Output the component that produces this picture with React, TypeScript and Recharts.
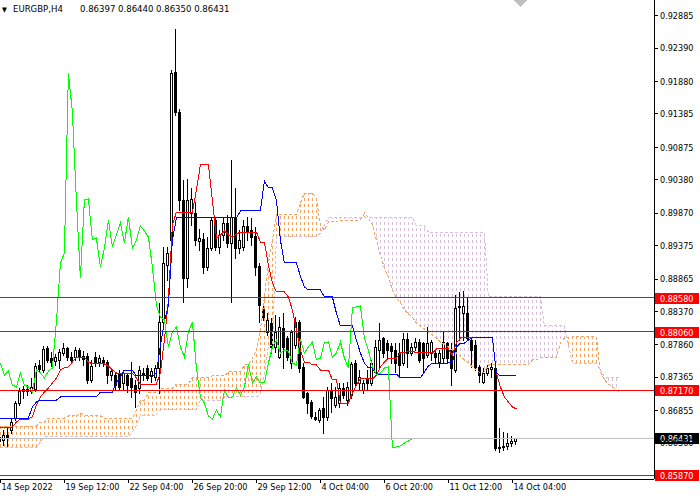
import React from "react";
import { ComposedChart, XAxis, YAxis, Bar, Line, Area, ReferenceLine } from "recharts";

const FONT = "'DejaVu Sans Condensed', 'Liberation Sans', sans-serif";

// H4 candles, one per bar index
const opens = [
  0.86454, 0.86408, 0.86484, 0.8656, 0.86743, 0.86972, 0.87156, 0.87186, 0.87156, 0.87186,
  0.87553, 0.87476, 0.87812, 0.87659, 0.87614, 0.87629, 0.87736, 0.87812, 0.87674, 0.87674,
  0.87782, 0.8769, 0.8769, 0.87324, 0.87674, 0.87598, 0.87629, 0.87598, 0.874, 0.874,
  0.8743, 0.87278, 0.874, 0.87354, 0.87247, 0.87201, 0.87415, 0.87507, 0.87385, 0.87369,
  0.87507, 0.88209, 0.89079, 0.89461, 0.92026, 0.91415, 0.90072, 0.88881, 0.89873, 0.89873,
  0.89446, 0.89476, 0.89049, 0.89339, 0.89766, 0.89354, 0.89537, 0.8972, 0.89415, 0.89812,
  0.89339, 0.89354, 0.89675, 0.89614, 0.89522, 0.89064, 0.88407, 0.88056, 0.88194, 0.87827,
  0.87674, 0.88117, 0.87965, 0.87583, 0.87858, 0.88209, 0.87522, 0.87125, 0.86988, 0.86759,
  0.86713, 0.86896, 0.86759, 0.87171, 0.86942, 0.86972, 0.87201, 0.87018, 0.87095, 0.87583,
  0.87278, 0.87171, 0.87354, 0.87278, 0.87446, 0.87782, 0.87965, 0.87888, 0.87843, 0.87782,
  0.87736, 0.87583, 0.87949, 0.87736, 0.87827, 0.87904, 0.87888, 0.87705, 0.87736, 0.87736,
  0.87598, 0.87659, 0.87888, 0.87782, 0.87476, 0.88453, 0.88346, 0.88346, 0.87934, 0.87858,
  0.87522, 0.87293, 0.8743, 0.87492, 0.87507, 0.86286, 0.86301, 0.86316, 0.86362, 0.86397,
];
const highs = [
  0.86514, 0.8656, 0.86591, 0.86728, 0.87003, 0.87201, 0.87232, 0.87247, 0.87354, 0.87583,
  0.87629, 0.87843, 0.87843, 0.87751, 0.8772, 0.87797, 0.87888, 0.87827, 0.87751, 0.87827,
  0.87812, 0.87766, 0.87736, 0.87629, 0.87751, 0.87705, 0.87674, 0.87629, 0.87507, 0.87446,
  0.87476, 0.87476, 0.8743, 0.87598, 0.87324, 0.87537, 0.87507, 0.87553, 0.87507, 0.87553,
  0.88499, 0.89354, 0.89354, 0.92056, 0.92682, 0.91461, 0.90377, 0.90392, 0.90255, 0.90041,
  0.89629, 0.89568, 0.89507, 0.89812, 0.89812, 0.89614, 0.89812, 0.89843, 0.90682, 0.90255,
  0.89614, 0.89766, 0.89812, 0.89797, 0.89659, 0.8911, 0.88453, 0.88346, 0.8827, 0.88316,
  0.88285, 0.88346, 0.87995, 0.88087, 0.88285, 0.8824, 0.87583, 0.8714, 0.87018, 0.86835,
  0.86896, 0.87064, 0.87217, 0.87278, 0.87217, 0.87278, 0.87278, 0.87293, 0.87598, 0.87629,
  0.87476, 0.87324, 0.87476, 0.87629, 0.87934, 0.88194, 0.8798, 0.87934, 0.87888, 0.87888,
  0.87888, 0.88041, 0.88041, 0.87888, 0.87965, 0.87949, 0.87904, 0.88133, 0.87934, 0.87782,
  0.87782, 0.88056, 0.87904, 0.87888, 0.88621, 0.88667, 0.88682, 0.88591, 0.87965, 0.87934,
  0.87553, 0.87507, 0.87553, 0.87583, 0.87553, 0.86591, 0.8653, 0.86514, 0.86469, 0.8644,
];
const lows = [
  0.86347, 0.86331, 0.86316, 0.86514, 0.86713, 0.86942, 0.87049, 0.87095, 0.87125, 0.87156,
  0.87446, 0.87446, 0.87598, 0.87537, 0.87553, 0.87507, 0.87705, 0.87629, 0.87583, 0.87629,
  0.87629, 0.87553, 0.87278, 0.87293, 0.87537, 0.87537, 0.87537, 0.87278, 0.87324, 0.87171,
  0.87171, 0.87171, 0.8714, 0.87064, 0.86911, 0.87125, 0.87324, 0.87324, 0.87293, 0.87324,
  0.87125, 0.88163, 0.8885, 0.89385, 0.91369, 0.89919, 0.88514, 0.88743, 0.8969, 0.89385,
  0.89308, 0.88957, 0.89003, 0.89308, 0.89308, 0.89263, 0.89461, 0.89354, 0.88514, 0.89186,
  0.89263, 0.89308, 0.89461, 0.89385, 0.88927, 0.88209, 0.8824, 0.88011, 0.87736, 0.87751,
  0.87659, 0.87507, 0.87629, 0.87507, 0.87812, 0.87446, 0.87049, 0.8682, 0.86743, 0.86713,
  0.86682, 0.86514, 0.86713, 0.86835, 0.86911, 0.86911, 0.87049, 0.86942, 0.87049, 0.87232,
  0.87171, 0.87125, 0.87171, 0.87247, 0.8743, 0.87522, 0.87674, 0.87674, 0.87583, 0.87446,
  0.87369, 0.87553, 0.87522, 0.87705, 0.87782, 0.87598, 0.8743, 0.87674, 0.87629, 0.87583,
  0.87522, 0.87598, 0.87598, 0.87247, 0.87446, 0.87934, 0.87934, 0.87934, 0.87522, 0.87476,
  0.87293, 0.87278, 0.874, 0.87369, 0.86255, 0.86225, 0.86255, 0.8627, 0.86316, 0.8635,
];
const closes = [
  0.86392, 0.86484, 0.86439, 0.86682, 0.86972, 0.87156, 0.87186, 0.87156, 0.87217, 0.87537,
  0.87492, 0.87797, 0.87629, 0.87598, 0.87674, 0.87751, 0.87812, 0.87674, 0.87629, 0.87782,
  0.87674, 0.87644, 0.87324, 0.87537, 0.87598, 0.87659, 0.87583, 0.874, 0.87461, 0.87247,
  0.87217, 0.8743, 0.87247, 0.87217, 0.8714, 0.87476, 0.8743, 0.87354, 0.87461, 0.87507,
  0.88209, 0.8911, 0.89263, 0.9201, 0.91415, 0.90072, 0.88881, 0.90072, 0.90087, 0.89461,
  0.89491, 0.89049, 0.89339, 0.89766, 0.89354, 0.89537, 0.8972, 0.89415, 0.89812, 0.89339,
  0.89461, 0.89675, 0.89598, 0.89507, 0.89049, 0.88469, 0.88285, 0.8824, 0.87827, 0.88056,
  0.88133, 0.87827, 0.87674, 0.88056, 0.88209, 0.87507, 0.87064, 0.86972, 0.86774, 0.86728,
  0.86866, 0.86759, 0.87171, 0.87049, 0.87064, 0.87201, 0.87095, 0.87217, 0.87568, 0.87278,
  0.87369, 0.87278, 0.87278, 0.87583, 0.87827, 0.87934, 0.87736, 0.87782, 0.87766, 0.87583,
  0.87553, 0.87949, 0.87736, 0.87827, 0.87904, 0.87629, 0.87659, 0.87888, 0.87904, 0.87674,
  0.87736, 0.87904, 0.87659, 0.87507, 0.88423, 0.88438, 0.88453, 0.87965, 0.87782, 0.87522,
  0.874, 0.8743, 0.87507, 0.87522, 0.86286, 0.86301, 0.86316, 0.86362, 0.86392, 0.86431,
];

// Ichimoku lines
const tenkan = [
  0.86591, 0.86591, 0.86591, 0.86606, 0.86682, 0.86728, 0.86728, 0.86728, 0.86759, 0.86942,
  0.87064, 0.8714, 0.87201, 0.87278, 0.87354, 0.87476, 0.87507, 0.87522, 0.87598, 0.87674,
  0.87674, 0.87674, 0.87598, 0.87568, 0.87568, 0.87568, 0.87568, 0.87537, 0.87476, 0.8743,
  0.8743, 0.8743, 0.8743, 0.8743, 0.87354, 0.87262, 0.87262, 0.87262, 0.87262, 0.87262,
  0.8743, 0.87934, 0.88545, 0.8969, 0.89888, 0.89888, 0.89888, 0.89888, 0.89888, 0.90224,
  0.90606, 0.90606, 0.90606, 0.90072, 0.89491, 0.89537, 0.89598, 0.89537, 0.89507, 0.89552,
  0.89583, 0.89583, 0.89583, 0.89583, 0.89583, 0.8943, 0.8943, 0.89079, 0.88804, 0.88667,
  0.88667, 0.88667, 0.88591, 0.88392, 0.88087, 0.87782, 0.87598, 0.87598, 0.87553, 0.87553,
  0.87476, 0.87476, 0.87476, 0.87324, 0.87324, 0.86972, 0.86972, 0.86972, 0.87125, 0.87247,
  0.87339, 0.87339, 0.87339, 0.87339, 0.874, 0.87522, 0.87598, 0.87659, 0.87659, 0.87659,
  0.87736, 0.87736, 0.87766, 0.87766, 0.87736, 0.87736, 0.87736, 0.87736, 0.87736, 0.87797,
  0.87797, 0.87797, 0.87797, 0.87705, 0.87888, 0.87965, 0.87965, 0.87965, 0.87965, 0.87965,
  0.87965, 0.87965, 0.87965, 0.87965, 0.8743, 0.87217, 0.87064, 0.86988, 0.86911, 0.86881,
];
const kijun = [
  0.86743, 0.86743, 0.86743, 0.86743, 0.86743, 0.86743, 0.86743, 0.86743, 0.86911, 0.86988,
  0.87018, 0.87018, 0.87018, 0.87018, 0.87018, 0.87064, 0.87064, 0.87064, 0.87064, 0.87064,
  0.87064, 0.87064, 0.87064, 0.87064, 0.87064, 0.8714, 0.8714, 0.8714, 0.8714, 0.87278,
  0.87369, 0.87476, 0.87476, 0.87476, 0.87385, 0.87385, 0.87385, 0.87385, 0.87385, 0.8743,
  0.87858, 0.88209, 0.88469, 0.89461, 0.89797, 0.89797, 0.89797, 0.89797, 0.89797, 0.89797,
  0.89797, 0.89797, 0.89797, 0.89797, 0.89797, 0.89797, 0.89797, 0.89797, 0.89797, 0.89797,
  0.89904, 0.89904, 0.89904, 0.89904, 0.89904, 0.89904, 0.90362, 0.90255, 0.90255, 0.90072,
  0.89461, 0.8911, 0.8911, 0.8911, 0.8911, 0.88911, 0.88743, 0.88698, 0.88698, 0.88698,
  0.88698, 0.88591, 0.88591, 0.88591, 0.88346, 0.88148, 0.88148, 0.88148, 0.88148, 0.87934,
  0.87736, 0.87583, 0.87507, 0.87507, 0.87415, 0.87415, 0.87415, 0.87415, 0.87415, 0.87415,
  0.87354, 0.87354, 0.87354, 0.87354, 0.87354, 0.87354, 0.87446, 0.87537, 0.87583, 0.87583,
  0.87583, 0.87583, 0.87583, 0.87598, 0.87827, 0.87888, 0.87888, 0.87934, 0.87965, 0.87965,
  0.87965, 0.87965, 0.87965, 0.87965, 0.8743, 0.87385, 0.87385, 0.87385, 0.87385, 0.87385,
];
// Senkou spans, drawn 26 bars ahead
const senkouA = [
  0.86621, 0.86621, 0.86621, 0.86621, 0.86621, 0.86621, 0.86621, 0.86621, 0.86621, 0.86621,
  0.86682, 0.86682, 0.86743, 0.86743, 0.86743, 0.86743, 0.86743, 0.86774, 0.86774, 0.86774,
  0.8682, 0.86774, 0.86774, 0.86774, 0.86774, 0.86774, 0.86743, 0.86743, 0.86743, 0.86743,
  0.86743, 0.86743, 0.86743, 0.86743, 0.86866, 0.87018, 0.87018, 0.87125, 0.87125, 0.87125,
  0.87201, 0.87201, 0.87201, 0.87201, 0.87262, 0.87262, 0.87262, 0.87262, 0.87354, 0.87354,
  0.87354, 0.87354, 0.87354, 0.87385, 0.87385, 0.87385, 0.87385, 0.87446, 0.87446, 0.87446,
  0.87446, 0.87553, 0.87553, 0.87659, 0.87782, 0.88087, 0.88591, 0.8911, 0.89461, 0.89843,
  0.89843, 0.89843, 0.89843, 0.89843, 0.89843, 0.90026, 0.90178, 0.90178, 0.90178, 0.90102,
  0.8969, 0.89614, 0.89736, 0.89736, 0.89736, 0.89766, 0.89766, 0.89766, 0.89766, 0.89766,
  0.89766, 0.89873, 0.89797, 0.8969, 0.89461, 0.89232, 0.89033, 0.88896, 0.88698, 0.88575,
  0.88499, 0.88392, 0.88331, 0.88285, 0.88194, 0.88148, 0.88102, 0.88056, 0.88011, 0.87965,
  0.87904, 0.87873, 0.87827, 0.87782, 0.87736, 0.8769, 0.87629, 0.87583, 0.87522, 0.87476,
  0.8743, 0.87446, 0.87553, 0.87553, 0.87553, 0.87553, 0.87553, 0.87553, 0.87553, 0.87553,
  0.87553, 0.87553, 0.87553, 0.87629, 0.87629, 0.87674, 0.87674, 0.87674, 0.87674, 0.87674,
  0.87888, 0.87965, 0.87965, 0.8798, 0.8798, 0.8798, 0.8798, 0.8798, 0.8798, 0.8798,
  0.87446, 0.87324, 0.87262, 0.87217, 0.87171, 0.87125,
];
const senkouB = [
  0.86286, 0.86286, 0.86286, 0.86286, 0.86286, 0.86286, 0.86286, 0.86286, 0.86286, 0.86286,
  0.86377, 0.86454, 0.86454, 0.86454, 0.86454, 0.86454, 0.86454, 0.86454, 0.86454, 0.86454,
  0.86454, 0.86454, 0.86454, 0.86454, 0.86454, 0.86454, 0.86454, 0.86454, 0.86454, 0.86454,
  0.86454, 0.86454, 0.86454, 0.8653, 0.86637, 0.86789, 0.86789, 0.86789, 0.86789, 0.86789,
  0.86866, 0.86866, 0.86866, 0.86866, 0.86866, 0.86866, 0.86866, 0.86866, 0.86866, 0.86866,
  0.87018, 0.87018, 0.87018, 0.87018, 0.87018, 0.87018, 0.87064, 0.87064, 0.87064, 0.87064,
  0.87064, 0.87064, 0.87064, 0.87064, 0.87064, 0.87095, 0.87415, 0.87843, 0.87843, 0.89507,
  0.89507, 0.89507, 0.89507, 0.89507, 0.89507, 0.89507, 0.89507, 0.89507, 0.89507, 0.89507,
  0.89568, 0.8969, 0.89797, 0.89797, 0.89797, 0.89797, 0.89797, 0.89797, 0.89797, 0.89797,
  0.89797, 0.89797, 0.89797, 0.89797, 0.89797, 0.89797, 0.89797, 0.89797, 0.89797, 0.89797,
  0.89797, 0.89797, 0.89797, 0.89797, 0.89675, 0.89675, 0.89675, 0.89583, 0.89583, 0.89583,
  0.89583, 0.89583, 0.89583, 0.89583, 0.89583, 0.89583, 0.89583, 0.89583, 0.89583, 0.89583,
  0.89583, 0.89583, 0.88591, 0.88591, 0.88591, 0.88591, 0.88591, 0.88591, 0.88591, 0.88591,
  0.88591, 0.88591, 0.88591, 0.88591, 0.88591, 0.88591, 0.88148, 0.88148, 0.88148, 0.88148,
  0.88148, 0.88148, 0.87858, 0.87583, 0.87583, 0.87583, 0.87583, 0.87583, 0.87583, 0.87583,
  0.87476, 0.87369, 0.87369, 0.87369, 0.87369, 0.87369,
];

const xTicks = [0, 16, 32, 48, 64, 80, 96, 112, 128];
const xLabels = [
  "14 Sep 2022", "19 Sep 12:00", "22 Sep 04:00", "26 Sep 20:00", "29 Sep 12:00",
  "4 Oct 04:00", "6 Oct 20:00", "11 Oct 12:00", "14 Oct 04:00",
];
const yTicks = [
  0.92885, 0.9239, 0.9188, 0.91385, 0.90875, 0.9038, 0.8987, 0.89375, 0.88865, 0.8837,
  0.8786, 0.87365, 0.86855, 0.8636,
];
const redLevels = [0.8858, 0.8806, 0.8717, 0.8587];
const CHIKOU_SHIFT = 26;
const last = closes.length - 1;

const rows = senkouA.map((a, i) => {
  const b = senkouB[i];
  const top = Math.max(a, b);
  const has = i <= last;
  return {
    i,
    range: has ? [lows[i], highs[i]] : null,
    o: has ? opens[i] : null,
    h: has ? highs[i] : null,
    l: has ? lows[i] : null,
    c: has ? closes[i] : null,
    tenkan: has ? tenkan[i] : null,
    kijun: has ? kijun[i] : null,
    chikou: i + CHIKOU_SHIFT <= last ? closes[i + CHIKOU_SHIFT] : null,
    spanA: a,
    spanB: b,
    bull: [b, top],
    bear: [a, top],
  };
});

function Candle(props: any) {
  const { x, y, width, height, payload } = props;
  if (!payload || payload.o == null) return null;
  const top = Math.min(y, y + height);
  const bottom = Math.max(y, y + height);
  const span = payload.h - payload.l;
  const py = (v: number) => (span > 0 ? top + ((payload.h - v) / span) * (bottom - top) : top);
  const cx = Math.floor(x + width / 2);
  const yH = Math.round(py(payload.h));
  const yL = Math.round(py(payload.l));
  const yT = Math.round(py(Math.max(payload.o, payload.c)));
  const yB = Math.round(py(Math.min(payload.o, payload.c)));
  const bull = payload.c > payload.o;
  return (
    <g>
      <rect x={cx} y={yH} width={1} height={Math.max(1, yL - yH + 1)} fill="#000" />
      <rect x={cx - 1} y={yT} width={3} height={Math.max(1, yB - yT + 1)} fill="#000" />
      {bull && yB - yT > 1 && <rect x={cx} y={yT + 1} width={1} height={yB - yT - 1} fill="#fff" />}
    </g>
  );
}

function PriceTag(props: any) {
  const { viewBox, text, bg } = props;
  if (!viewBox) return null;
  const right = viewBox.x + viewBox.width;
  const top = Math.round(viewBox.y) - 5;
  return (
    <g>
      <rect x={right + 1} y={top} width={44} height={11} fill={bg} />
      <text x={right + 6} y={top + 5.5} dy="0.36em" fill="#fff" fontSize={9} fontFamily={FONT}>
        {text}
      </text>
    </g>
  );
}

function XTick(props: any) {
  const { x, y, payload } = props;
  const k = xTicks.indexOf(payload.value);
  return (
    <text x={x + 1} y={y} dy="0.71em" fill="#000" fontSize={9} fontFamily={FONT} textAnchor="start">
      {xLabels[k]}
    </text>
  );
}

export default function App() {
  return (
    <div
      style={{
        position: "absolute",
        left: 0,
        top: 0,
        width: 700,
        height: 500,
        background: "#fff",
        overflow: "hidden",
        shapeRendering: "crispEdges",
      }}
    >
      <ComposedChart width={700} height={500} data={rows} margin={{ top: 0, right: 0, left: 0, bottom: 0 }}>
        <defs>
          <pattern id="hatchBull" width={4} height={6} patternUnits="userSpaceOnUse">
            <rect x={0} y={0} width={1} height={3} fill="#F4A460" />
          </pattern>
          <pattern id="hatchBear" width={4} height={6} patternUnits="userSpaceOnUse">
            <rect x={0} y={0} width={1} height={3} fill="#D8BFD8" />
          </pattern>
        </defs>
        <XAxis
          dataKey="i"
          type="number"
          domain={[-0.1, 163.4]}
          allowDataOverflow
          ticks={xTicks}
          interval={0}
          height={21}
          tickSize={4}
          tickMargin={1}
          stroke="#000"
          tickLine={{ stroke: "#000" }}
          axisLine={{ stroke: "#000" }}
          tick={<XTick />}
        />
        <YAxis
          orientation="right"
          type="number"
          domain={[0.85812, 0.93125]}
          allowDataOverflow
          ticks={yTicks}
          interval={0}
          width={46}
          tickSize={4}
          tickMargin={2}
          axisLine={{ stroke: "#000" }}
          tickLine={{ stroke: "#000" }}
          tick={{ fill: "#000", fontSize: 9, fontFamily: FONT }}
          tickFormatter={(v: number) => v.toFixed(5)}
        />
        <Area dataKey="bear" type="linear" stroke="none" fill="url(#hatchBear)" fillOpacity={1} isAnimationActive={false} />
        <Area dataKey="bull" type="linear" stroke="none" fill="url(#hatchBull)" fillOpacity={1} isAnimationActive={false} />
        <Line dataKey="spanA" type="linear" stroke="#F4A460" strokeDasharray="3 2" dot={false} activeDot={false} isAnimationActive={false} />
        <Line dataKey="spanB" type="linear" stroke="#D8BFD8" strokeDasharray="3 2" dot={false} activeDot={false} isAnimationActive={false} />
        <Bar dataKey="range" barSize={3} shape={<Candle />} isAnimationActive={false} />
        <Line dataKey="tenkan" type="linear" stroke="#FF0000" dot={false} activeDot={false} isAnimationActive={false} />
        <Line dataKey="kijun" type="linear" stroke="#0000FF" dot={false} activeDot={false} isAnimationActive={false} />
        <Line dataKey="chikou" type="linear" stroke="#00FF00" dot={false} activeDot={false} isAnimationActive={false} />
        {redLevels.map((v) => (
          <ReferenceLine key={v} y={v} stroke="#FF0000" label={<PriceTag text={v.toFixed(5)} bg="#FF0000" />} />
        ))}
        <ReferenceLine y={closes[last]} stroke="#C0C0C0" label={<PriceTag text={closes[last].toFixed(5)} bg="#000" />} />
      </ComposedChart>
      <svg width={700} height={20} style={{ position: "absolute", left: 0, top: 0 }}>
        <text x={2} y={12} fontSize={7} fill="#000" fontFamily={FONT}>▼</text>
        <text x={13} y={12} fontSize={9.5} fill="#000" fontFamily={FONT}>EURGBP,H4</text>
        <text x={80} y={12} fontSize={9.5} fill="#000" fontFamily={FONT}>
          {[opens[last], highs[last], lows[last], closes[last]].map((v) => v.toFixed(5)).join(" ")}
        </text>
        <polygon points="513,0 527,0 520,7" fill="#C0C0C0" />
      </svg>
    </div>
  );
}
